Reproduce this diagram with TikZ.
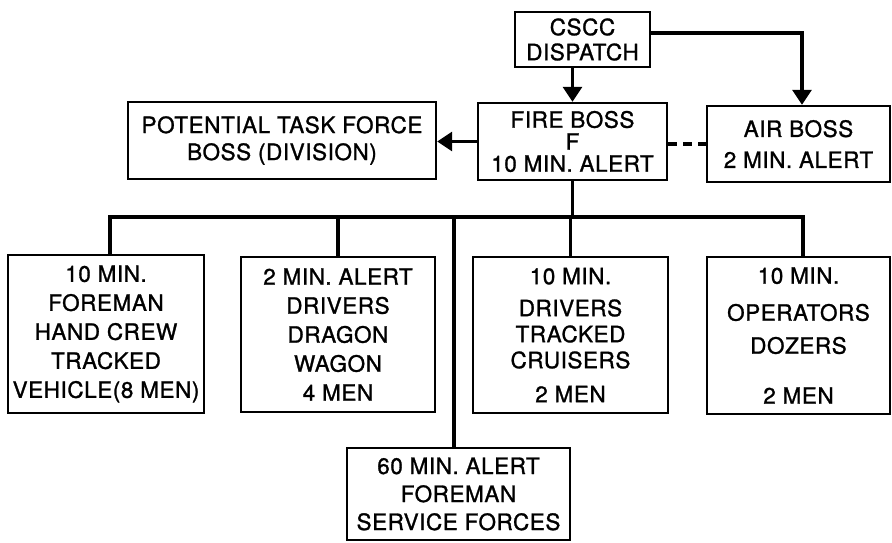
\documentclass[tikz,border=0pt]{standalone}
\usepackage{fontspec}
\setmainfont{TeX Gyre Heros}[LetterSpace=2.5,FakeBold=1.2]
\usetikzlibrary{arrows.meta}
\begin{document}
\begin{tikzpicture}[x=1pt,y=-1pt,
  box/.style={draw, line width=2.4pt, inner sep=0pt, align=center},
  fs/.style={font=\fontsize{22.5}{#1}\selectfont},
  conn/.style={line width=3.2pt},
  arr/.style={line width=3.2pt, -{Triangle[width=19pt,length=15pt]}}]
\useasboundingbox (0,0) rectangle (892,542);
% top level
\node[box, fs=25, minimum width=135pt, minimum height=55pt] (cscc) at (582.5,39.5) {CSCC\\DISPATCH};
\node[box, fs=22, minimum width=189pt, minimum height=77pt] (fire) at (572.5,141.5) {FIRE BOSS\\F\\10 MIN. ALERT};
\node[box, fs=31, minimum width=183pt, minimum height=76pt] (air) at (798.5,144) {AIR BOSS\\2 MIN. ALERT};
\node[box, fs=27, minimum width=308pt, minimum height=77pt] (pot) at (282,140.5) {POTENTIAL TASK FORCE\\BOSS (DIVISION)};
% lower level
\node[box, fs=29, minimum width=196pt, minimum height=158pt] (b1) at (106,334) {10 MIN.\\FOREMAN\\HAND CREW\\TRACKED\\VEHICLE(8 MEN)};
\node[box, fs=29, minimum width=194pt, minimum height=155pt] (b2) at (338,334.5) {2 MIN. ALERT\\DRIVERS\\DRAGON\\WAGON\\4 MEN};
\node[box, fs=29, minimum width=195pt, minimum height=156pt] (b3) at (570.5,335) {10 MIN.\\[3pt]DRIVERS\\[-3pt]TRACKED\\[-3pt]CRUISERS\\[5pt]2 MEN};
\node[box, fs=29, minimum width=183pt, minimum height=157pt] (b4) at (798.5,335.5) {10 MIN.\\[8pt]OPERATORS\\[4pt]DOZERS\\[21pt]2 MEN};
\node[box, fs=28, minimum width=223pt, minimum height=92pt] (b5) at (458.5,494) {60 MIN. ALERT\\FOREMAN\\SERVICE FORCES};
% connectors
\draw[arr] (fire.north |- cscc.south) -- (fire.north);
\draw[arr] ([yshift=6.5pt]cscc.east) -| ([xshift=3.5pt]air.north);
\draw[arr] (fire.west) -- (fire.west -| pot.east);
\draw[conn, dash pattern=on 9pt off 6pt] (air.west -| fire.east) -- (air.west);
\coordinate (bl) at (110,217);
\coordinate (br) at (803,217);
\coordinate (bm) at (454,217);
\draw[conn] (fire.south) -- (fire.south |- bl);
\draw[conn] (bl |- b1.north) -- (bl) -- (br) -- (br |- b4.north);
\draw[conn] (b2.north) -- (b2.north |- bl);
\draw[conn] (b3.north) -- (b3.north |- bl);
\draw[conn] (bm) -- (bm |- b5.north);
\end{tikzpicture}
\end{document}
